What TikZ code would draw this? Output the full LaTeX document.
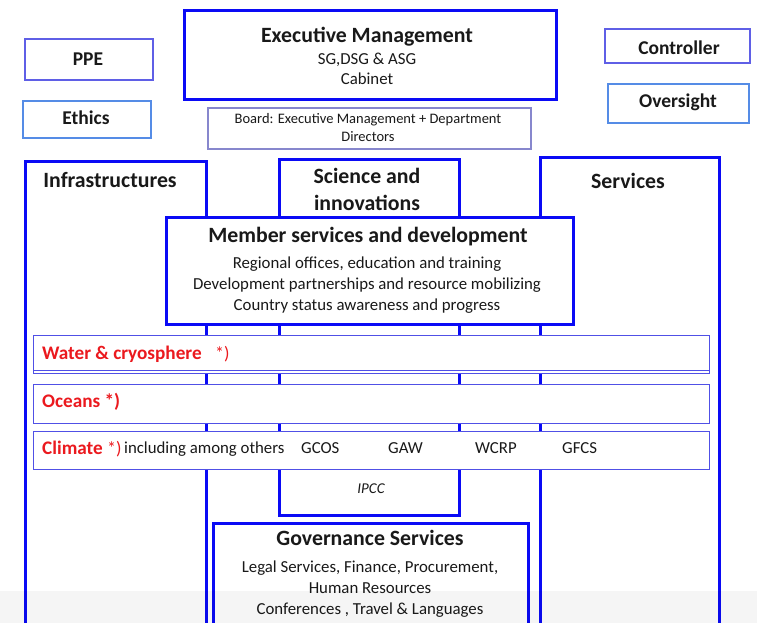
\documentclass[tikz,border=0pt]{standalone}
\usepackage{fontspec}
\setmainfont{Carlito}
\definecolor{thickblue}{RGB}{10,10,245}
\definecolor{ppeblue}{RGB}{95,95,230}
\definecolor{lightblue}{RGB}{85,140,230}
\definecolor{boardblue}{RGB}{135,135,205}
\definecolor{bandblue}{RGB}{80,80,230}
\definecolor{redtxt}{RGB}{235,25,30}
\definecolor{txt}{RGB}{25,25,25}
\newcommand{\boxat}[6]{\node[#6, anchor=north west, minimum width={#4-#2}, minimum height={#5-#3}] (#1) at (#2,#3) {};}
\tikzset{
  thickbox/.style={draw=thickblue, line width=3pt, fill=white, inner sep=0pt},
  thinbox/.style={draw=#1, line width=1.6pt, fill=white, inner sep=0pt},
  bandbox/.style={draw=bandblue, line width=1.1pt, fill=white, inner sep=0pt},
  txtbase/.style={inner sep=0pt, yshift=-1.8pt},
  ttl/.style={txtbase, font=\fontsize{21.8}{25}\selectfont\bfseries, text=txt, text height=15pt, text depth=4.5pt},
  sttl/.style={txtbase, font=\fontsize{19.5}{22}\selectfont\bfseries, text=txt, text height=13.5pt, text depth=4.5pt},
  sub/.style={txtbase, font=\fontsize{16.8}{19}\selectfont, text=txt, text height=11.5pt, text depth=3.5pt},
  small/.style={txtbase, font=\fontsize{14.5}{17}\selectfont, text=txt, text height=10pt, text depth=3pt},
  red/.style={txtbase, font=\fontsize{19.2}{22}\selectfont\bfseries, text=redtxt, text height=13.5pt, text depth=4.5pt},
  redsym/.style={txtbase, font=\fontsize{18}{22}\selectfont, text=redtxt, text height=13.5pt, text depth=4.5pt},
}
\begin{document}
\begin{tikzpicture}[x=1pt,y=-1pt]
\useasboundingbox (0,0) rectangle (757,623);
\clip (0,0) rectangle (757,623);
\fill[white] (0,0) rectangle (757,623);
% top boxes
\boxat{exec}{183}{9}{555}{98}{thickbox}
\node[ttl] (exect) at (367,35) {Executive Management};
\node[sub] (exec1) at (367,59) {SG,DSG \& ASG};
\node[sub] (exec2) at (367,79) {Cabinet};
\boxat{ppe}{24}{38}{152}{79}{thinbox=ppeblue}
\node[sttl] (ppet) at (88,59) {PPE};
\boxat{ethics}{22}{100}{150}{137}{thinbox=lightblue}
\node[sttl] (ethicst) at (86,118) {Ethics};
\boxat{ctrl}{604}{28}{749}{62}{thinbox=ppeblue}
\node[sttl] (ctrlt) at (679,48) {Controller};
\boxat{over}{607}{83}{748}{122}{thinbox=lightblue}
\node[sttl] (overt) at (678,101) {Oversight};
\boxat{board}{207}{107}{530}{148}{thinbox=boardblue}
\node[small] (board1) at (368,118) {Board: Executive Management + Department};
\node[small] (board2) at (368,136) {Directors};
% columns
\boxat{infra}{24}{160}{205}{640}{thickbox}
\node[ttl] (infrat) at (110,180) {Infrastructures};
\boxat{sci}{278}{158}{458}{514}{thickbox}
\node[ttl] (sci1) at (367,176) {Science and};
\node[ttl] (sci2) at (367,203) {innovations};
\boxat{serv}{539}{156}{718}{640}{thickbox}
\node[ttl] (servt) at (628,181) {Services};
% member services
\boxat{member}{165}{216}{572}{323}{thickbox}
\node[ttl] (membert) at (368,235) {Member services and development};
\node[sub] (member1) at (367,263) {Regional offices, education and training};
\node[sub] (member2) at (367,284) {Development partnerships and resource mobilizing};
\node[sub] (member3) at (367,305) {Country status awareness and progress};
% bands
\boxat{waterb}{33}{338}{709}{373}{bandbox}
\boxat{water}{33}{335}{709}{370}{bandbox}
\node[red, anchor=west] (watert) at (42,353) {Water \& cryosphere};
\node[redsym, anchor=west] (waters) at (215,353) {*)};
\boxat{oceans}{33}{384}{709}{423}{bandbox}
\node[red, anchor=west] (oceanst) at (42,401) {Oceans *)};
\boxat{climate}{33}{431}{709}{469}{bandbox}
\node[red, anchor=west] (climatet) at (42,448) {Climate};
\node[redsym, anchor=west] (climates) at (107,448) {*)};
\node[sub, anchor=west] (incl) at (124,448) {including among others};
\node[sub, anchor=west] (gcos) at (301,448) {GCOS};
\node[sub, anchor=west] (gaw) at (388,448) {GAW};
\node[sub, anchor=west] (wcrp) at (475,448) {WCRP};
\node[sub, anchor=west] (gfcs) at (562,448) {GFCS};
\node[small, font=\fontsize{15}{17}\selectfont\itshape] (ipcc) at (371,488) {IPCC};
% governance
\boxat{gov}{212}{522}{527}{640}{thickbox}
\node[ttl] (govt) at (370,538) {Governance Services};
\node[sub] (gov1) at (370,567) {Legal Services, Finance, Procurement,};
\node[sub] (gov2) at (370,588) {Human Resources};
\node[sub] (gov3) at (370,609) {Conferences , Travel \& Languages};
% faint bottom shade
\fill[black, opacity=0.04] (0,591) rectangle (757,623);
\end{tikzpicture}
\end{document}
